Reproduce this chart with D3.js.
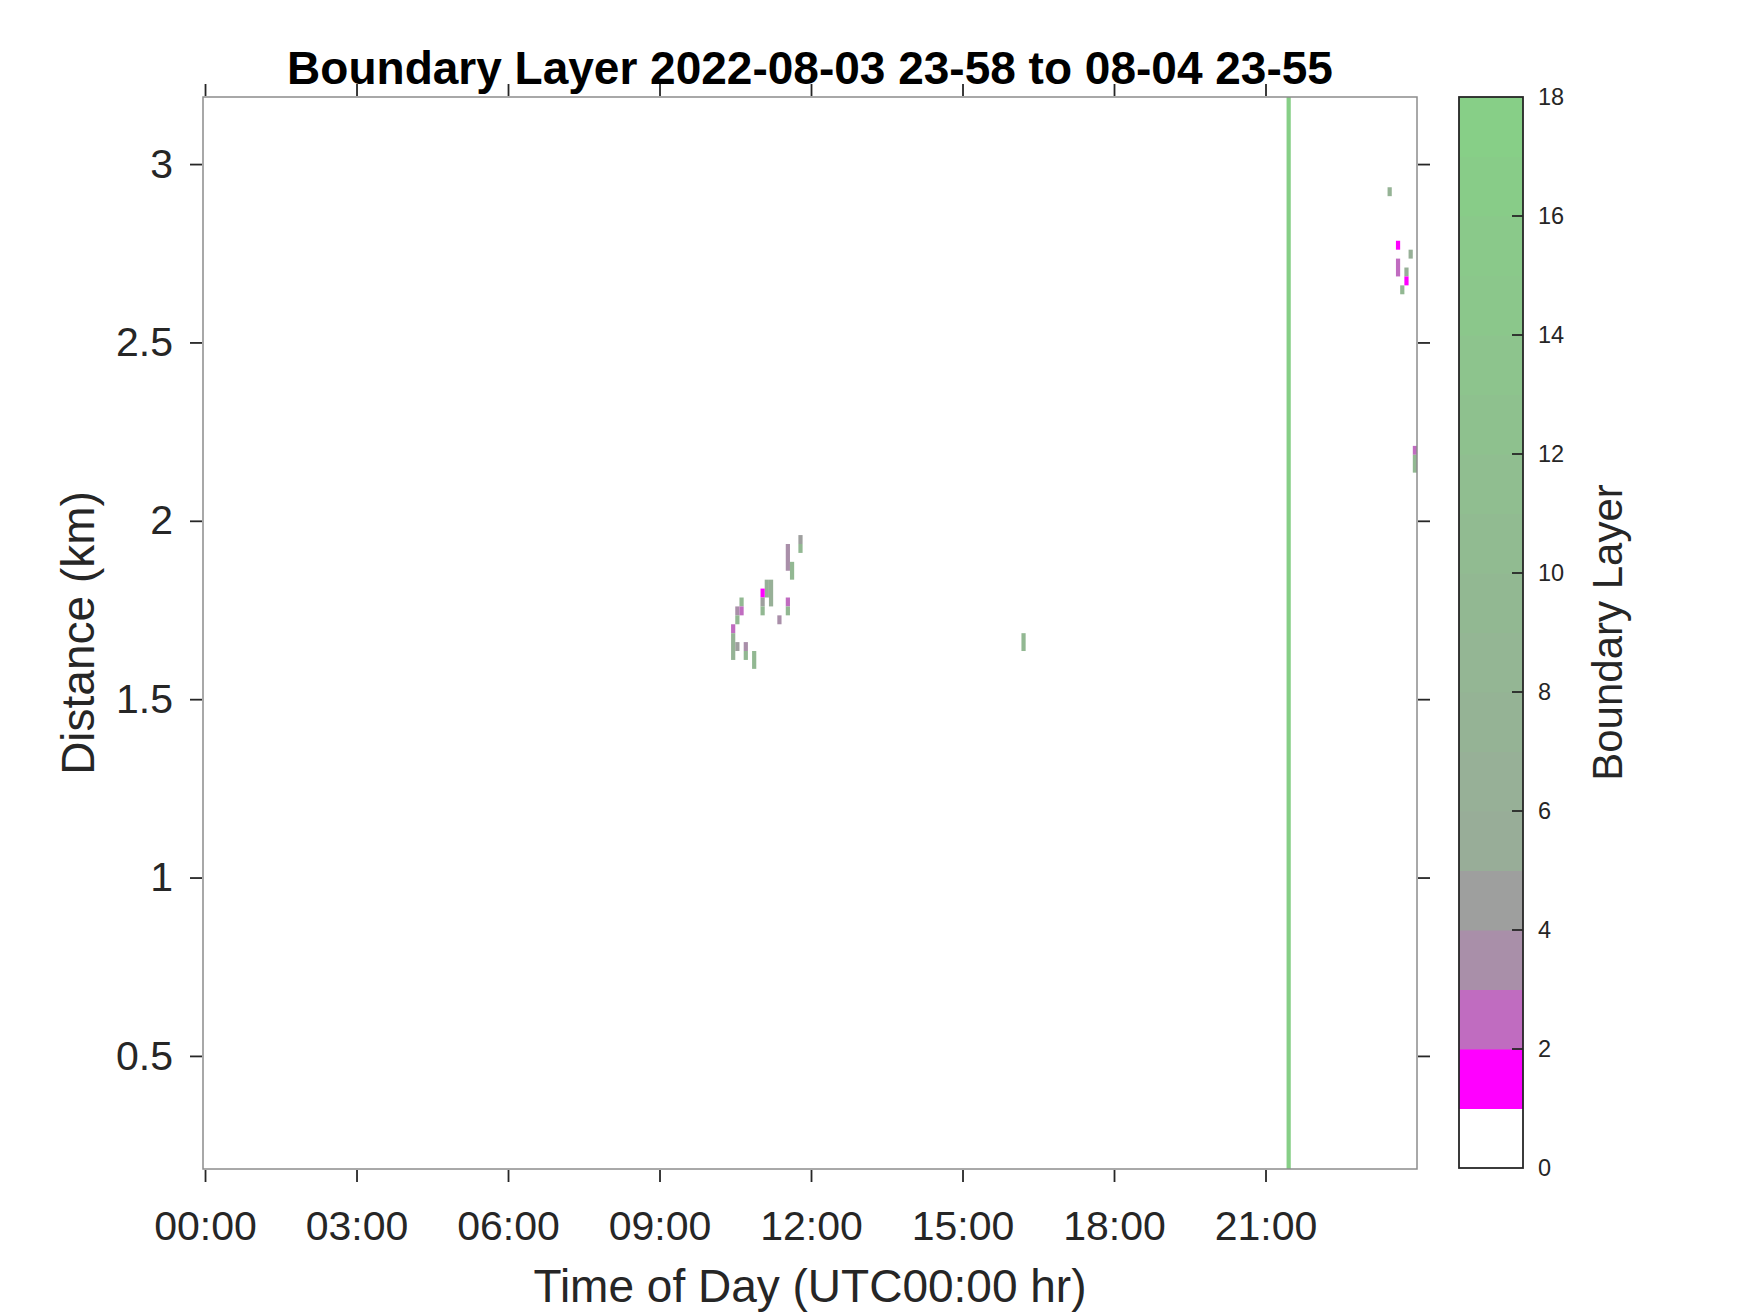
<!DOCTYPE html>
<html>
<head>
<meta charset="utf-8">
<script src="https://cdn.jsdelivr.net/npm/d3@7"></script>
<style>
  body { margin: 0; background: #fff; }
</style>
</head>
<body>
<div id="chart"></div>
<script>
// tick labels
const timeTicks = [0, 3, 6, 9, 12, 15, 18, 21];
const distTicks = [0.5, 1, 1.5, 2, 2.5, 3];
const levelTicks = [0, 2, 4, 6, 8, 10, 12, 14, 16, 18];

// detected cells: bin start (hour), gate base (km), gate top (km), level
const cellTime = [11.75, 11.75, 11.5, 11.583, 11.083, 11.167, 11.0, 11.0, 11.0, 11.5,
                  11.5, 10.583, 10.5, 10.583, 10.5, 11.333, 10.417, 10.417, 10.5, 10.667,
                  10.667, 10.833, 16.167,
                  23.417, 23.583, 23.833, 23.583, 23.75, 23.75, 23.667, 23.917, 23.917,
                  21.417];
const cellBase = [1.935, 1.91, 1.86, 1.835, 1.785, 1.76, 1.785, 1.76, 1.735, 1.76,
                  1.735, 1.76, 1.735, 1.735, 1.71, 1.71, 1.685, 1.61, 1.635, 1.635,
                  1.61, 1.585, 1.635,
                  2.91, 2.76, 2.735, 2.685, 2.685, 2.66, 2.635, 2.185, 2.135,
                  0.18];
const cellTop  = [1.96, 1.935, 1.935, 1.885, 1.835, 1.835, 1.81, 1.785, 1.76, 1.785,
                  1.76, 1.785, 1.76, 1.76, 1.735, 1.735, 1.71, 1.685, 1.66, 1.66,
                  1.635, 1.635, 1.685,
                  2.935, 2.785, 2.76, 2.735, 2.71, 2.685, 2.66, 2.21, 2.185,
                  3.19];
const cellLevel = [4, 9, 3, 9, 6, 6, 1, 4, 9, 2,
                   9, 9, 3, 2, 9, 3, 2, 7, 4, 3,
                   9, 9, 9,
                   7, 1, 6, 2, 6, 1, 9, 2, 9,
                   17];

const binHours = 5 / 60;

// colormap: 18 bands, fixed low end then a grey-green to green ramp
const lowColors = ['#ffffff', '#ff00ff', '#c06cc0', '#a98fa9', '#9e9f9e'];
const rampFrom = '#98ad98', rampTo = '#87cf87';
const levelColor = k => k < 5 ? lowColors[k] : d3.interpolateRgb(rampFrom, rampTo)((k - 5) / 12);

(function(){
    const config = { "vw": 1750, "vh": 1313 };
    const plot = { left: 203, right: 1417, top: 97, bottom: 1169 };
    const cbar = { left: 1459, right: 1523, top: 97, bottom: 1168 };
    const tickColor = '#262626';

    const svg = d3.select("#chart").append("svg")
      .attr("width", config.vw)
      .attr("height", config.vh)
      .attr("font-family", "'Liberation Sans', Arial, sans-serif");

    svg.append("rect")
      .attr("width", config.vw).attr("height", config.vh)
      .attr("fill", "#fff");

    const xScale = d3.scaleLinear().domain([-0.04, 24]).range([plot.left, plot.right]);
    const yScale = d3.scaleLinear().domain([0.183, 3.188]).range([plot.bottom, plot.top]);

    svg.append("clipPath").attr("id", "plot-clip")
      .append("rect")
      .attr("x", plot.left).attr("y", plot.top)
      .attr("width", plot.right - plot.left).attr("height", plot.bottom - plot.top);

    // cells
    const cells = cellTime.map((t, i) => ({ t: t, lo: cellBase[i], hi: cellTop[i], lev: cellLevel[i] }));
    svg.append("g")
      .attr("clip-path", "url(#plot-clip)")
      .selectAll("rect")
      .data(cells)
      .join("rect")
        .attr("x", d => xScale(d.t))
        .attr("width", d => xScale(d.t + binHours) - xScale(d.t))
        .attr("y", d => yScale(d.hi))
        .attr("height", d => yScale(d.lo) - yScale(d.hi))
        .attr("fill", d => levelColor(d.lev));

    // box
    svg.append("rect")
      .attr("x", plot.left).attr("y", plot.top)
      .attr("width", plot.right - plot.left).attr("height", plot.bottom - plot.top)
      .attr("fill", "none")
      .attr("stroke", "#8c8c8c")
      .attr("stroke-width", 1.5);

    const fmtHour = h => String(h).padStart(2, "0") + ":00";

    const styleAxis = g => {
      g.select(".domain").remove();
      g.selectAll(".tick line").attr("stroke", tickColor).attr("stroke-width", 1.8);
      g.selectAll(".tick text").attr("fill", tickColor).attr("font-size", 41);
    };

    svg.append("g")
      .attr("transform", "translate(0," + (plot.bottom + 1) + ")")
      .call(d3.axisBottom(xScale).tickValues(timeTicks).tickFormat(fmtHour).tickSize(12).tickPadding(29))
      .call(styleAxis);
    svg.append("g")
      .attr("transform", "translate(0," + (plot.top - 1) + ")")
      .call(d3.axisTop(xScale).tickValues(timeTicks).tickFormat("").tickSize(12))
      .call(styleAxis);
    svg.append("g")
      .attr("transform", "translate(" + (plot.left - 1) + ",0)")
      .call(d3.axisLeft(yScale).tickValues(distTicks).tickFormat(d3.format("")).tickSize(12).tickPadding(17))
      .call(styleAxis);
    svg.append("g")
      .attr("transform", "translate(" + (plot.right + 1) + ",0)")
      .call(d3.axisRight(yScale).tickValues(distTicks).tickFormat("").tickSize(12))
      .call(styleAxis);

    // titles
    svg.append("text")
      .attr("x", (plot.left + plot.right) / 2).attr("y", 84)
      .attr("text-anchor", "middle")
      .attr("font-size", 46).attr("font-weight", "bold")
      .attr("fill", "#000")
      .text("Boundary Layer 2022-08-03 23-58 to 08-04 23-55");
    svg.append("text")
      .attr("x", (plot.left + plot.right) / 2).attr("y", 1302)
      .attr("text-anchor", "middle")
      .attr("font-size", 46)
      .attr("fill", tickColor)
      .text("Time of Day (UTC00:00 hr)");
    svg.append("text")
      .attr("transform", "translate(94," + ((plot.top + plot.bottom) / 2) + ") rotate(-90)")
      .attr("text-anchor", "middle")
      .attr("font-size", 46)
      .attr("fill", tickColor)
      .text("Distance (km)");

    // colorbar
    const cScale = d3.scaleLinear().domain([0, 18]).range([cbar.bottom, cbar.top]);
    const bands = d3.range(18);
    svg.append("g")
      .selectAll("rect")
      .data(bands)
      .join("rect")
        .attr("x", cbar.left)
        .attr("width", cbar.right - cbar.left)
        .attr("y", k => cScale(k + 1))
        .attr("height", k => cScale(k) - cScale(k + 1) + 0.5)
        .attr("fill", k => levelColor(k));
    svg.append("rect")
      .attr("x", cbar.left).attr("y", cbar.top)
      .attr("width", cbar.right - cbar.left).attr("height", cbar.bottom - cbar.top)
      .attr("fill", "none")
      .attr("stroke", tickColor)
      .attr("stroke-width", 1.8);
    const cTicks = svg.append("g");
    cTicks.selectAll("line")
      .data(levelTicks.slice(1, -1))
      .join("line")
        .attr("x1", cbar.right - 11).attr("x2", cbar.right)
        .attr("y1", d => cScale(d)).attr("y2", d => cScale(d))
        .attr("stroke", tickColor).attr("stroke-width", 1.8);
    cTicks.selectAll("text")
      .data(levelTicks)
      .join("text")
        .attr("x", cbar.right + 15)
        .attr("y", d => cScale(d))
        .attr("dy", "0.35em")
        .attr("font-size", 23.5)
        .attr("fill", tickColor)
        .text(d => d);
    svg.append("text")
      .attr("transform", "translate(1622," + ((cbar.top + cbar.bottom) / 2) + ") rotate(-90)")
      .attr("text-anchor", "middle")
      .attr("font-size", 42)
      .attr("fill", tickColor)
      .text("Boundary Layer");
})();
</script>
</body>
</html>
